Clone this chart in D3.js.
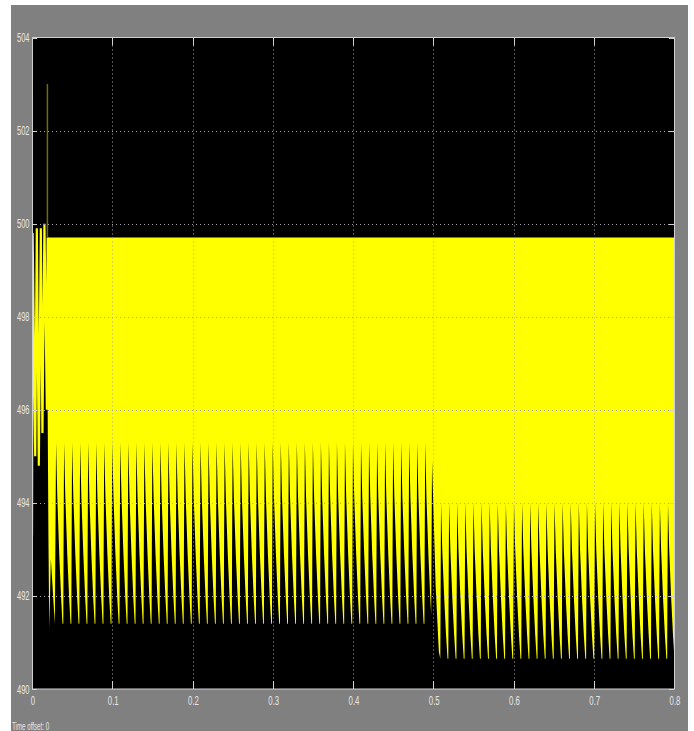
<!DOCTYPE html>
<html lang="en">
  <head>
    <meta charset="utf-8" />
    <title>Scope</title>
    <script src="https://cdnjs.cloudflare.com/ajax/libs/d3/7.8.5/d3.min.js"></script>
    <style>
      body {
        margin: 0;
        background: #ffffff;
      }
      svg {
        display: block;
      }
      .lbl {
        font-family: "Liberation Sans", Arial, sans-serif;
        font-size: 13px;
        fill: #e6e6e6;
      }
    </style>
  </head>
  <body>
    <div id="chart"></div>
    <script>
      // axis ticks
      const xTicks = [0, 0.1, 0.2, 0.3, 0.4, 0.5, 0.6, 0.7, 0.8];
      const yTicks = [490, 492, 494, 496, 498, 500, 502, 504];

      // start-up transient (time, value)
      const transientT = [0, 0.0008, 0.004, 0.006, 0.0085, 0.011, 0.013, 0.0155, 0.0185, 0.0195];
      const transientV = [493.3, 499.8, 495.0, 499.9, 494.8, 499.9, 495.5, 500.0, 496.0, 499.7];
      // overshoot spike (dim trace)
      const spikeT = 0.0192;
      const spikeV = [499.7, 503.0];

      // upper edge of the dense switching band
      const bandTop = 499.7;

      // lower edge before the ripple settles
      const settleT = [0.0195, 0.0205, 0.0215, 0.0235, 0.027, 0.0285];
      const settleV = [496.0, 493.2, 491.3, 492.8, 491.8, 491.4];

      // lower edge around the load step at t = 0.5
      const stepT = [0.4985, 0.503, 0.507, 0.5088];
      const stepV = [494.9, 492.2, 490.8, 490.65];

      // ripple segments: first peak time, end, period, peak, valley
      const segFirst = [0.03, 0.5097];
      const segEnd = [0.4975, 0.8];
      const segPeriod = [0.01, 0.0101];
      const segPeak = [495.3, 494.0];
      const segValley = [491.4, 490.65];

      // one ripple cycle, phase from the peak and height between valley (0) and peak (1)
      const cyclePhase = [0, 0.15, 0.4, 0.62, 0.74, 0.8, 0.9, 0.93, 0.97];
      const cycleLevel = [1, 0.7, 0.38, 0.15, 0.05, 0, 0, 0.4, 0.75];

      const W = 694,
        H = 731;
      const x = d3.scaleLinear().domain([0, 0.8]).range([32, 674]);
      const y = d3.scaleLinear().domain([490, 504]).range([689, 37.5]);

      const svg = d3.select("#chart").append("svg").attr("width", W).attr("height", H);

      svg.append("defs")
        .append("clipPath")
        .attr("id", "plotClip")
        .append("rect")
        .attr("x", x(0))
        .attr("y", y(504))
        .attr("width", x(0.8) - x(0))
        .attr("height", y(490) - y(504));

      // grey scope panel
      svg.append("rect")
        .attr("x", 11)
        .attr("y", 5)
        .attr("width", 677)
        .attr("height", 726)
        .attr("fill", "#808080");

      svg.append("rect")
        .attr("x", x(0))
        .attr("y", y(504))
        .attr("width", x(0.8) - x(0))
        .attr("height", y(490) - y(504))
        .attr("fill", "#000");

      // build lower edge of the band
      let lower = settleT.map((t, i) => [t, settleV[i]]);
      for (let s = 0; s < segFirst.length; s++) {
        if (s === 1) stepT.forEach((t, i) => lower.push([t, stepV[i]]));
        for (let k = 0; ; k++) {
          const tp = segFirst[s] + k * segPeriod[s];
          if (tp > segEnd[s]) break;
          cyclePhase.forEach((p, i) => {
            const t = tp + p * segPeriod[s];
            if (t <= segEnd[s] + 0.0001)
              lower.push([t, segValley[s] + cycleLevel[i] * (segPeak[s] - segValley[s])]);
          });
        }
      }

      const plot = svg.append("g").attr("clip-path", "url(#plotClip)");

      const area = d3
        .area()
        .x((d) => x(d[0]))
        .y0((d) => y(d[1]))
        .y1(y(bandTop));

      plot.append("path").datum(lower).attr("d", area).attr("fill", "#ffff00");

      const line = d3
        .line()
        .x((d) => x(d[0]))
        .y((d) => y(d[1]));

      plot.append("path")
        .datum(transientT.map((t, i) => [t, transientV[i]]))
        .attr("d", line)
        .attr("fill", "none")
        .attr("stroke", "#ffff00")
        .attr("stroke-width", 2.2);

      plot.append("path")
        .datum(spikeV.map((v) => [spikeT, v]))
        .attr("d", line)
        .attr("fill", "none")
        .attr("stroke", "#6e6e00")
        .attr("stroke-width", 1.5);

      // dotted grid on top of the trace
      const grid = svg.append("g").attr("stroke", "#a8a8a8").attr("stroke-width", 1);
      grid.selectAll(".gx")
        .data(xTicks.slice(1, -1))
        .enter()
        .append("line")
        .attr("x1", (d) => Math.round(x(d)) + 0.5)
        .attr("x2", (d) => Math.round(x(d)) + 0.5)
        .attr("y1", y(504))
        .attr("y2", y(490))
        .attr("stroke-dasharray", "1,3");
      grid.selectAll(".gy")
        .data(yTicks.slice(1, -1))
        .enter()
        .append("line")
        .attr("x1", x(0))
        .attr("x2", x(0.8))
        .attr("y1", (d) => Math.round(y(d)) + 0.5)
        .attr("y2", (d) => Math.round(y(d)) + 0.5)
        .attr("stroke-dasharray", "1,3");

      // solid inner ticks
      const ticks = svg.append("g").attr("stroke", "#d0d0d0").attr("stroke-width", 1);
      xTicks.forEach((d) => {
        const px = Math.round(x(d)) + 0.5;
        ticks.append("line").attr("x1", px).attr("x2", px).attr("y1", y(504)).attr("y2", y(504) + 8);
        ticks.append("line").attr("x1", px).attr("x2", px).attr("y1", y(490)).attr("y2", y(490) - 8);
      });
      yTicks.forEach((d) => {
        const py = Math.round(y(d)) + 0.5;
        ticks.append("line").attr("x1", x(0)).attr("x2", x(0) + 5).attr("y1", py).attr("y2", py);
        ticks.append("line").attr("x1", x(0.8)).attr("x2", x(0.8) - 5).attr("y1", py).attr("y2", py);
      });

      // axes frame
      svg.append("rect")
        .attr("x", x(0) + 0.5)
        .attr("y", y(504))
        .attr("width", x(0.8) - x(0))
        .attr("height", y(490) - y(504))
        .attr("fill", "none")
        .attr("stroke", "#d0d0d0")
        .attr("stroke-width", 1);

      // tick labels
      svg.selectAll(".yl")
        .data(yTicks)
        .enter()
        .append("text")
        .attr("class", "lbl")
        .attr("text-anchor", "end")
        .attr("transform", (d) => `translate(29.5,${y(d) + 4.5}) scale(0.58,1)`)
        .text((d) => d);

      svg.selectAll(".xl")
        .data(xTicks)
        .enter()
        .append("text")
        .attr("class", "lbl")
        .attr("text-anchor", "middle")
        .attr("transform", (d) => `translate(${x(d) + 1},${y(490) + 16}) scale(0.6,1)`)
        .text((d) => (d === 0 ? "0" : d3.format(".1f")(d)));

      svg.append("text")
        .attr("class", "lbl")
        .style("font-size", "10px")
        .attr("transform", "translate(12,729.5) scale(0.62,1)")
        .text("Time offset:  0");
    </script>
  </body>
</html>
